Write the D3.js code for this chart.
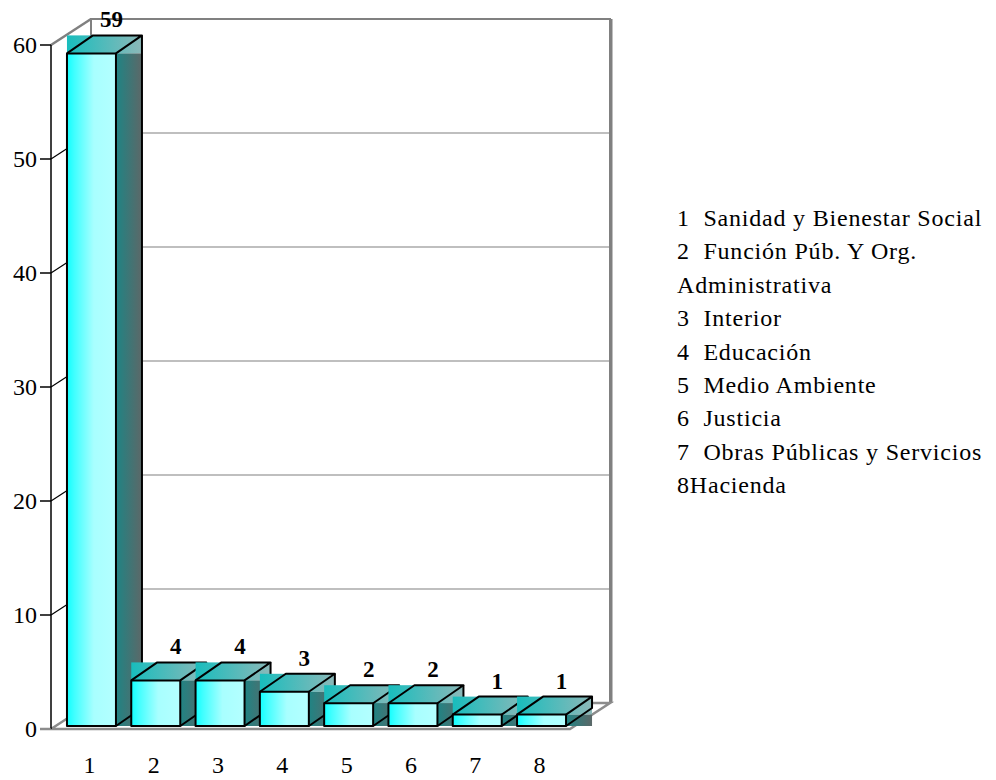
<!DOCTYPE html>
<html>
<head>
<script src="https://cdn.jsdelivr.net/npm/d3@7"></script>
<style>
body { margin: 0; background: #fff; }
text { font-family: "Liberation Serif", "Times New Roman", serif; }
.wall { fill: #fff; stroke: #808080; stroke-width: 2; }
.grid { stroke: #808080; stroke-width: 1.2; }
.floor { stroke: #8c8c8c; stroke-width: 2.5; fill: none; }
.edge { stroke: #000; stroke-width: 2; fill: none; stroke-linejoin: round; }
</style>
</head>
<body>
<div id="chart"></div>
<script>
var categories = ["1", "2", "3", "4", "5", "6", "7", "8"];
var values = [59, 4, 4, 3, 2, 2, 1, 1];
var yTicks = [0, 10, 20, 30, 40, 50, 60];
var legendLines = [
  "1  Sanidad y Bienestar Social",
  "2  Función Púb. Y Org.",
  "Administrativa",
  "3  Interior",
  "4  Educación",
  "5  Medio Ambiente",
  "6  Justicia",
  "7  Obras Públicas y Servicios",
  "8Hacienda"
];

var w = 996, h = 780;
var plotLeft = 51, plotRight = 570, plotBase = 729, plotTop = 45;
var depthX = 40, depthY = 26;      // floor depth
var barDx = 26, barDy = 18;        // bar depth
var barShiftX = 5, barShiftY = 3;  // bars sit a little into the floor

var svg = d3.select("#chart").append("svg")
    .attr("width", w)
    .attr("height", h);

var defs = svg.append("defs");
function grad(id, stops) {
  var g = defs.append("linearGradient").attr("id", id)
      .attr("x1", "0%").attr("x2", "100%").attr("y1", "0%").attr("y2", "0%");
  stops.forEach(function(s) {
    g.append("stop").attr("offset", s[0]).attr("stop-color", s[1]);
  });
}
grad("front", [["0%", "#10ffff"], ["15%", "#40ffff"], ["55%", "#a8ffff"], ["100%", "#b4ffff"]]);
grad("side", [["0%", "#1f8484"], ["100%", "#5c6868"]]);
grad("topf", [["0%", "#18bdbd"], ["100%", "#8cb8b8"]]);

var y = d3.scaleLinear().domain([0, 60]).range([plotBase, plotTop]);
var x = d3.scaleBand().domain(categories)
    .range([plotLeft + barShiftX + 1, plotRight + barShiftX + 1])
    .paddingInner(0.238).paddingOuter(0.155);

// back wall
svg.append("rect").attr("class", "wall")
    .attr("x", plotLeft + depthX).attr("y", plotTop - depthY)
    .attr("width", plotRight - plotLeft).attr("height", plotBase - plotTop);

svg.selectAll(".grid").data(yTicks.slice(1, -1))
  .enter().append("line")
    .attr("class", "grid")
    .attr("x1", plotLeft + depthX).attr("x2", plotRight + depthX)
    .attr("y1", function(d) { return y(d) - depthY; })
    .attr("y2", function(d) { return y(d) - depthY; });

// right wall edge shadow
svg.append("line")
    .attr("x1", plotRight + depthX + 1).attr("x2", plotRight + depthX + 1)
    .attr("y1", plotTop - depthY).attr("y2", plotBase - depthY)
    .attr("stroke", "#808080").attr("stroke-width", 3);

// left wall gridlines
svg.selectAll(".sgrid").data(yTicks.slice(1))
  .enter().append("line")
    .attr("class", "sgrid")
    .attr("x1", plotLeft).attr("x2", plotLeft + depthX)
    .attr("y1", function(d) { return y(d); })
    .attr("y2", function(d) { return y(d) - depthY; })
    .attr("stroke", function(d) { return d === 60 ? "#808080" : "#000"; })
    .attr("stroke-width", function(d) { return d === 60 ? 2.5 : 1.2; });

// floor
svg.append("path").attr("class", "floor")
    .attr("d", "M" + (plotLeft - 11) + "," + plotBase + "L" + plotRight + "," + plotBase +
      "L" + (plotRight + depthX) + "," + (plotBase - depthY) +
      "L" + (plotLeft + depthX) + "," + (plotBase - depthY) +
      "L" + plotLeft + "," + plotBase);

// y axis
svg.append("line")
    .attr("x1", plotLeft).attr("x2", plotLeft).attr("y1", plotTop).attr("y2", plotBase)
    .attr("stroke", "#000").attr("stroke-width", 1.5);

var yt = svg.selectAll(".ytick").data(yTicks).enter().append("g")
    .attr("transform", function(d) { return "translate(0," + y(d) + ")"; });
yt.append("line")
    .attr("x1", plotLeft - 11).attr("x2", plotLeft)
    .attr("stroke", function(d) { return d === 0 ? "#8c8c8c" : "#000"; })
    .attr("stroke-width", 1.5);
yt.append("text")
    .attr("x", plotLeft - 14).attr("dy", "0.35em")
    .attr("text-anchor", "end")
    .style("font-size", "24px")
    .text(function(d) { return d; });

// bars
var barBase = plotBase - barShiftY;
var bw = x.bandwidth();
var bars = svg.selectAll(".bar").data(values).enter().append("g").attr("class", "bar");

bars.each(function(v, i) {
  var g = d3.select(this);
  var bx = x(categories[i]);
  var by = barBase - (plotBase - y(v));
  // top face bounding box fill
  g.append("rect")
      .attr("x", bx).attr("y", by - barDy)
      .attr("width", bw + barDx).attr("height", barDy)
      .style("fill", "url(#topf)");
  // side face bounding box fill
  g.append("rect")
      .attr("x", bx + bw).attr("y", by)
      .attr("width", barDx).attr("height", barBase - by)
      .style("fill", "url(#side)");
  // front face
  g.append("rect")
      .attr("class", "edge")
      .attr("x", bx).attr("y", by)
      .attr("width", bw).attr("height", barBase - by)
      .style("fill", "url(#front)");
  g.append("path").attr("class", "edge")
      .attr("d", "M" + bx + "," + by + "L" + (bx + barDx) + "," + (by - barDy) +
        "L" + (bx + bw + barDx) + "," + (by - barDy) + "L" + (bx + bw) + "," + by);
  g.append("path").attr("class", "edge")
      .attr("d", "M" + (bx + bw + barDx) + "," + (by - barDy) +
        "L" + (bx + bw + barDx) + "," + (barBase - barDy) + "L" + (bx + bw) + "," + barBase);
  g.append("text")
      .attr("x", bx + (bw + barDx) / 2 + 7)
      .attr("y", by - barDy - 8)
      .attr("text-anchor", "middle")
      .style("font-size", "23px")
      .style("font-weight", "bold")
      .text(v);
});

// x labels
svg.selectAll(".xlab").data(categories).enter().append("text")
    .attr("x", function(d) { return x(d) + bw / 2 - 2; })
    .attr("y", 773)
    .attr("text-anchor", "middle")
    .style("font-size", "24px")
    .text(function(d) { return d; });

// legend
svg.selectAll(".leg").data(legendLines).enter().append("text")
    .attr("x", 677)
    .attr("y", function(d, i) { return 226 + i * 33.4; })
    .style("font-size", "24px")
    .style("letter-spacing", "0.8px")
    .style("white-space", "pre")
    .text(function(d) { return d; });
</script>
</body>
</html>
